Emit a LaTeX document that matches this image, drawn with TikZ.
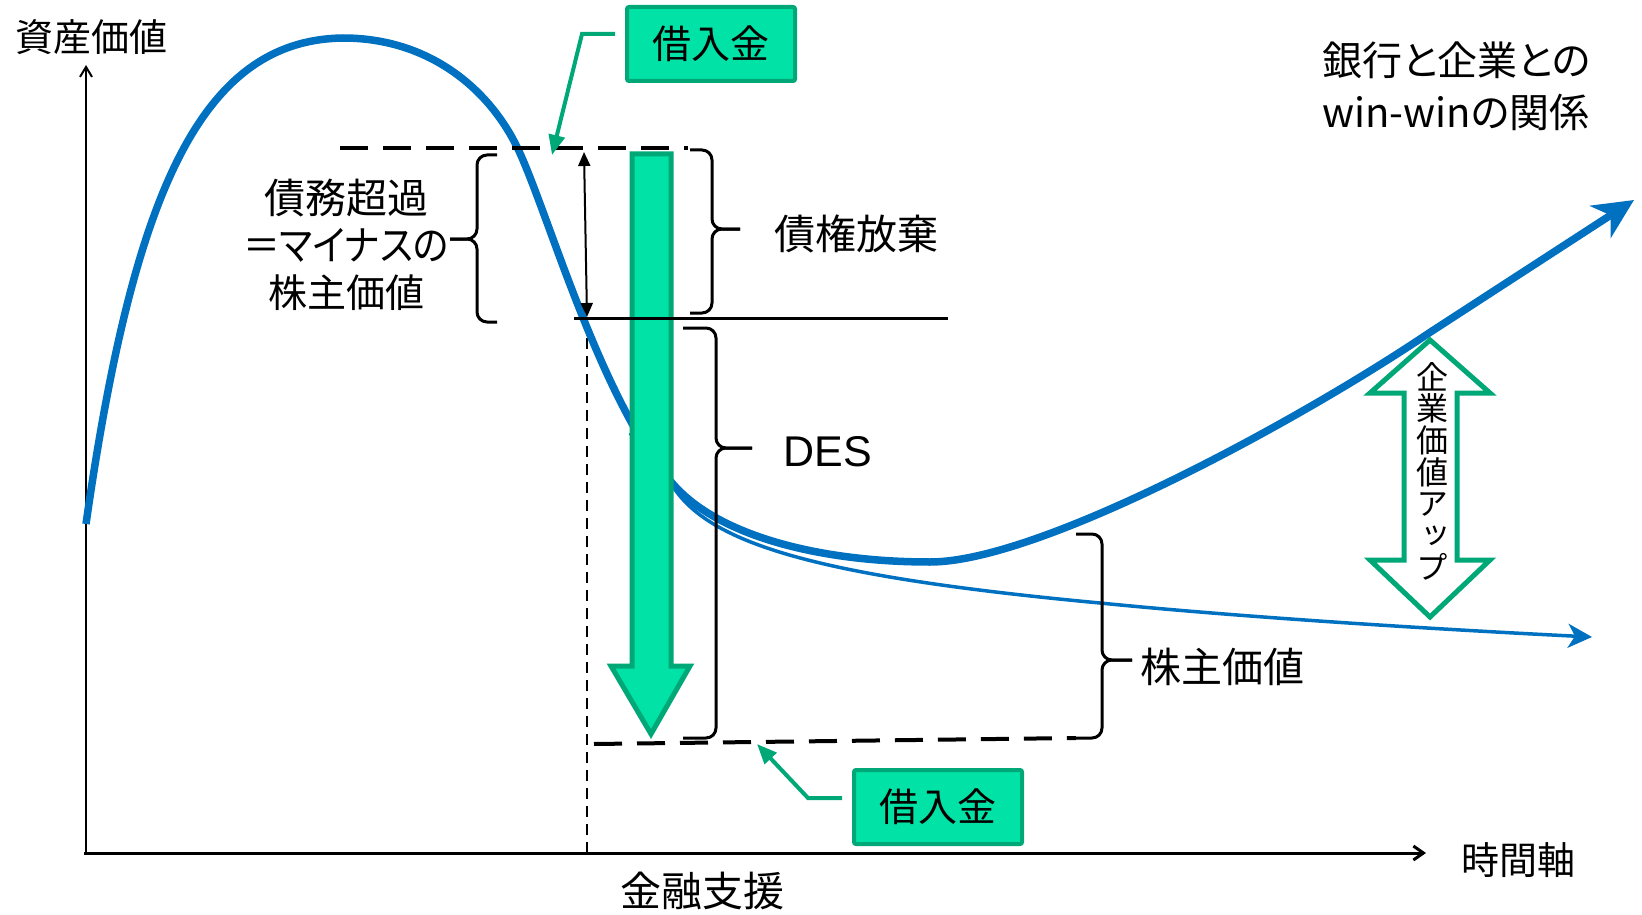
\documentclass[tikz,border=0pt]{standalone}
\usepackage{fontspec}
\setmainfont{Noto Sans CJK JP}[RawFeature=+palt]
\newfontfamily\vertfont{Noto Sans CJK JP}[RawFeature=+vert]
\newfontfamily\arialfont{Liberation Sans}
\usetikzlibrary{arrows.meta,calc}
\definecolor{ppblue}{HTML}{0070C0}
\definecolor{gfill}{HTML}{00E2A6}
\definecolor{gline}{HTML}{00A878}
\begin{document}
\begin{tikzpicture}[x=1pt,y=-1pt,
  jp/.style={inner sep=0pt,font=\fontsize{41}{46}\selectfont},
  gbox/.style={draw=gline,fill=gfill,line width=4pt,rounded corners=2pt,minimum width=168pt,minimum height=74pt,inner sep=0pt,font=\fontsize{39}{46}\selectfont},
  gconn/.style={draw=gline,line width=4pt,-{Triangle[length=20pt,width=16pt]}},
  bracel/.style={line width=3pt,rounded corners=10pt},
  dashl/.style={line width=4pt,dash pattern=on 28pt off 15pt},
  thickcurve/.style={ppblue,line width=7.5pt,-{Stealth[length=40pt,width=38pt,inset=12pt]}},
  thincurve/.style={ppblue,line width=3.5pt,-{Stealth[length=24pt,width=24pt,inset=7pt]}},
]
\useasboundingbox (0,0) rectangle (1642,915);

% axes
\coordinate (O) at (86,853);
\coordinate (ytop) at (86,65);
\coordinate (xend) at (1426,853);
\draw[line width=2pt,-{Straight Barb[length=10pt,width=12pt]}] (O) -- (ytop);
\draw[line width=3pt,-{Straight Barb[length=10pt,width=14pt]}] (84,853) -- (xend);

% vertical dashed line
\coordinate (vd1) at (587,320);
\coordinate (vd2) at (587,853);
\draw[line width=2pt,dash pattern=on 11pt off 7pt] (vd1) -- (vd2);

% curves
\coordinate (split) at (668,478);
\draw[thincurve] (630,433) .. controls (645,452) and (656,466) .. (split)
   .. controls (700,540) and (800,575) .. (1100,603)
   .. controls (1250,618) and (1450,630) .. (1592,637);
\draw[thickcurve] (86,524) .. controls (133,195) and (200,40) .. (343,38)
   .. controls (430,38) and (490,90) .. (518,149)
   .. controls (548,212) and (600,400) .. (673,484)
   .. controls (718,536) and (820,562) .. (930,562)
   .. controls (1040,562) and (1300,420) .. (1429,333)
   -- (1634,200);

% green down arrow
\draw[draw=gline,fill=gfill,line width=5pt] (632,154) -- (671,154) -- (671,666) -- (690,666) -- (651,734) -- (611,666) -- (632,666) -- cycle;

% horizontal lines
\draw[dashl] (340,148) -- (688,148);
\draw[line width=3pt] (574,318) -- (948,318);
\draw[dashl] (594,744) -- (1076,738);

% black double arrow
\draw[line width=2pt,{Triangle[length=14pt,width=12pt]}-{Triangle[length=14pt,width=12pt]}] (584,152) -- (587,317);

% braces
\draw[bracel] (497,155) -| (477,239) -- (450,239);
\draw[bracel] (497,322) -| (477,239) -- (450,239);
\draw[bracel] (690,150) -| (712,229) -- (740,229);
\draw[bracel] (690,313) -| (712,229) -- (740,229);
\draw[bracel] (683,328) -| (716,448) -- (752,448);
\draw[bracel] (683,738) -| (716,448) -- (752,448);
\draw[bracel] (1076,534) -| (1102,660) -- (1132,660);
\draw[bracel] (1076,738) -| (1102,660) -- (1132,660);

% double arrow (enterprise value up)
\draw[gline,line width=5pt,fill=white] (1430,340) -- (1490,393) -- (1457,393) -- (1457,560) -- (1490,560) -- (1430,617) -- (1370,560) -- (1404,560) -- (1404,393) -- (1370,393) -- cycle;
\node[inner sep=0pt,align=center,font=\vertfont\fontsize{32}{31.7}\selectfont] (up) at (1432,471) {企\\業\\価\\値\\ア\\ッ\\プ};

% texts
\node[jp,font=\fontsize{38}{46}\selectfont] (yl) at (92,37) {資産価値};
\node[inner sep=0pt,align=center,font=\fontsize{41}{47}\selectfont] (debt) at (346,245) {債務超過\\\scalebox{0.9}[1]{＝マイナスの}\\{\fontsize{39}{47}\selectfont 株主価値}};
\node[jp] (waiver) at (856,234) {債権放棄};
\node[inner sep=0pt,font=\arialfont\fontsize{43}{46}\selectfont] (des) at (828,452) {DES};
\node[jp] (sv) at (1222,667) {株主価値};
\node[jp,align=left,anchor=west,font=\fontsize{40}{52}\selectfont] (winwin) at (1322,86) {銀行と企業との\\win-winの関係};
\node[jp,font=\fontsize{38}{46}\selectfont] (time) at (1518,860) {時間軸};
\node[jp] (fin) at (702,891) {金融支援};

% green boxes and connectors
\node[gbox] (topbox) at (711,44) {借入金};
\node[gbox] (botbox) at (938,807) {借入金};
\coordinate (tk) at (582,34);
\coordinate (ttip) at (552,155);
\draw[gconn,shorten <=10pt] ([yshift=10pt]topbox.west) -- (tk) -- (ttip);
\coordinate (bk) at (808,798);
\coordinate (btip) at (757,744);
\draw[gconn,shorten <=10pt] ([yshift=9pt]botbox.west) -- (bk) -- (btip);
\end{tikzpicture}
\end{document}
